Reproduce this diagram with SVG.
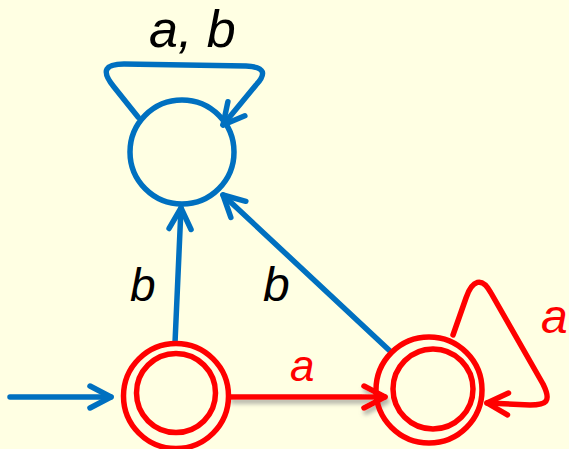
<svg xmlns="http://www.w3.org/2000/svg" width="569" height="449" viewBox="0 0 569 449">
<style>
.blue{fill:none;stroke:#0070C0;stroke-width:5.5;stroke-linecap:round;stroke-linejoin:round}
.red{fill:none;stroke:#FF0000;stroke-width:5.5;stroke-linecap:round;stroke-linejoin:round}
.ring{fill:none;stroke:#FF0000;stroke-width:5.5}
.lbl{font-family:"Liberation Sans",Arial,sans-serif;font-style:italic}
</style>
<defs>
<marker id="ab" viewBox="-26 -15 30 30" markerWidth="30" markerHeight="30" refX="0" refY="0" orient="auto" markerUnits="userSpaceOnUse">
<path d="M-21,-11 L0,0 L-21,11" fill="none" stroke="#0070C0" stroke-width="5.5" stroke-linecap="round" stroke-linejoin="round"/>
</marker>
<marker id="ar" viewBox="-26 -15 30 30" markerWidth="30" markerHeight="30" refX="0" refY="0" orient="auto" markerUnits="userSpaceOnUse">
<path d="M-21,-11 L0,0 L-21,11" fill="none" stroke="#FF0000" stroke-width="5.5" stroke-linecap="round" stroke-linejoin="round"/>
</marker>
<filter id="sh" filterUnits="userSpaceOnUse" x="215" y="375" width="190" height="45">
<feDropShadow dx="2" dy="4" stdDeviation="2" flood-color="#808080" flood-opacity="0.6"/>
</filter>
</defs>
<rect width="569" height="449" fill="#FFFFE3"/>
<g id="connectors">
<path class="blue" d="M10,397 L111,397" marker-end="url(#ab)"/>
<path class="blue" d="M138,117 L114,87 C100,70 106,64 124,64 L246,66 C266,67 266,74 256,85 L223,125" marker-end="url(#ab)"/>
<path class="blue" d="M175,343 L181,208" marker-end="url(#ab)"/>
<path class="blue" d="M390,351 L223,195" marker-end="url(#ab)"/>
<path class="red" d="M231,397 L385,397" marker-end="url(#ar)" filter="url(#sh)"/>
<path class="red" d="M453,335 L466,298 C472,280 482,276 491,293 L543,384 C552,402 546,405 530,405 L487,403" marker-end="url(#ar)"/>
<text class="lbl" x="149" y="47" font-size="52" fill="#000">a, b</text>
<text class="lbl" x="130" y="301" font-size="46" fill="#000">b</text>
<text class="lbl" x="263" y="301" font-size="48" fill="#000">b</text>
<text class="lbl" x="290" y="381" font-size="44" fill="#FF0000">a</text>
<text class="lbl" x="541" y="333" font-size="48" fill="#FF0000">a</text>
</g>
<g id="q2">
<circle cx="182" cy="152" r="52" class="blue"/>
</g>
<g id="q0">
<circle cx="176" cy="396" r="52.5" class="ring"/>
<circle cx="176" cy="393" r="39.5" class="ring"/>
</g>
<g id="q1">
<circle cx="429" cy="390" r="53" class="ring"/>
<circle cx="433" cy="389" r="40" class="ring"/>
</g>
</svg>
